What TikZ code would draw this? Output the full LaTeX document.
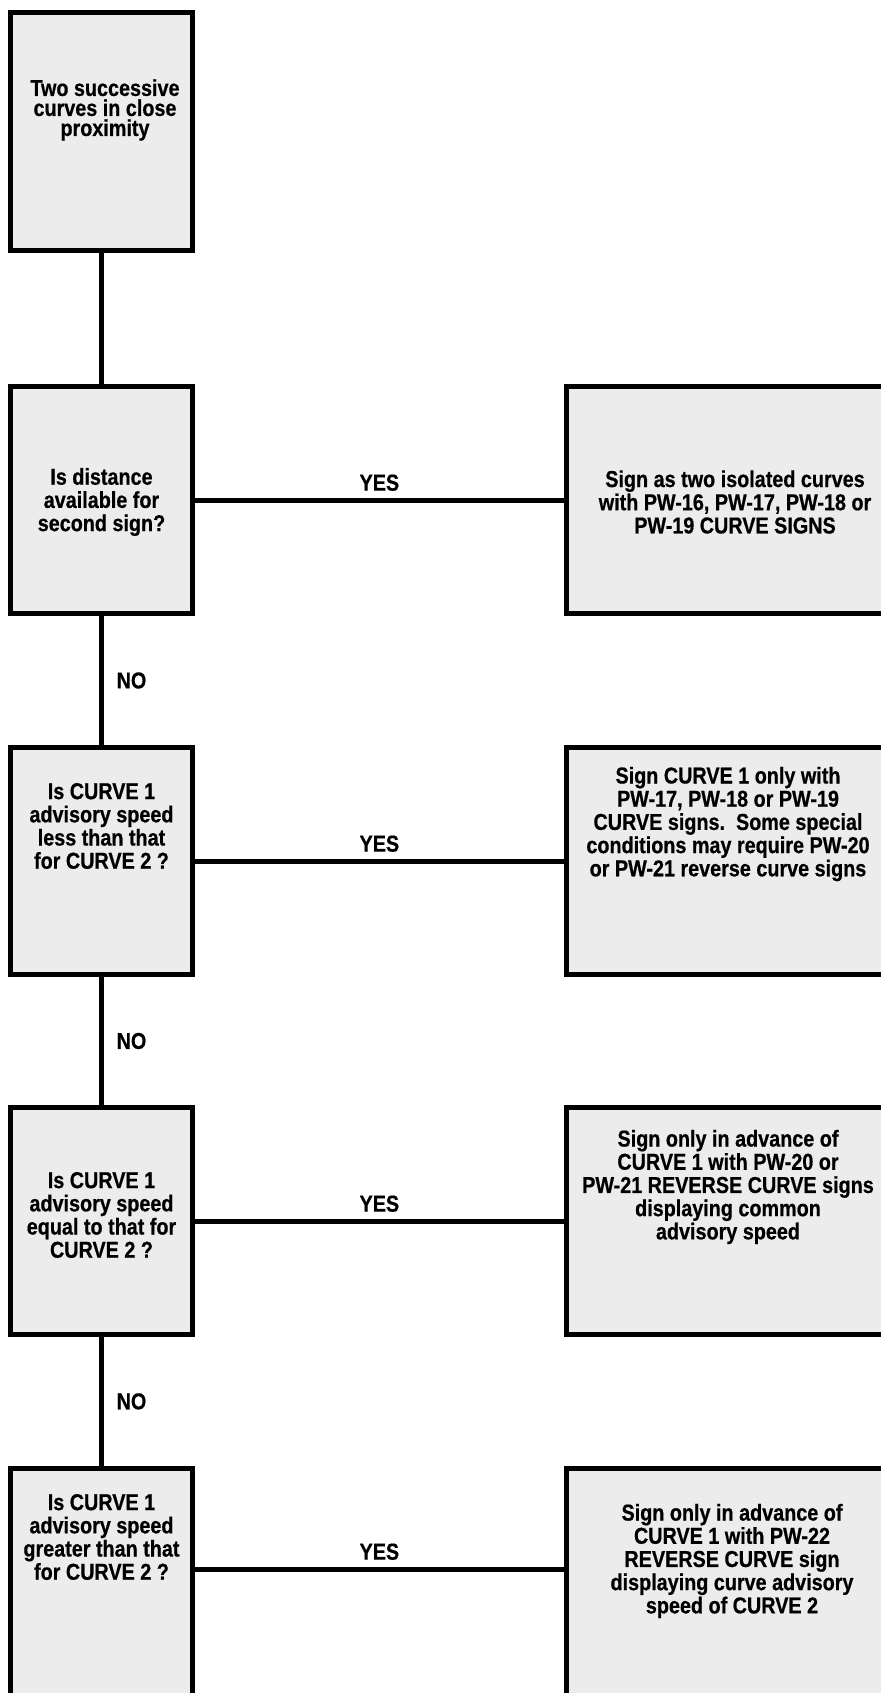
\documentclass[tikz,border=0pt]{standalone}
\usepackage{fontspec}
\setmainfont[FakeStretch=0.86,BoldFeatures={FakeBold=0.6}]{Liberation Sans}

\begin{document}
\begin{tikzpicture}[x=0.5pt,y=-0.5pt,
    box/.style={draw,line width=2.6pt,fill=gray!15,minimum width=91pt,minimum height=113.5pt,inner sep=0pt},
    ans/.style={box,minimum width=181.75pt},
    txt/.style={align=center,font=\bfseries\fontsize{11.5}{11.6}\selectfont},
    lbl/.style={font=\bfseries\fontsize{11.5}{11}\selectfont}]
    \clip (0,0) rectangle (881,1693);
    % question column
    \node[box,minimum height=119pt] (start) at (101.5,131.5) {};
    \node[box] (q1) at (101.5,500) {};
    \node[box] (q2) at (101.5,861) {};
    \node[box] (q3) at (101.5,1221) {};
    \node[box,minimum height=135.75pt] (q4) at (101.5,1604) {};
    % answer column
    \node[ans] (a1) at (748,500) {};
    \node[ans] (a2) at (748,861) {};
    \node[ans] (a3) at (748,1221) {};
    \node[ans,minimum height=135.75pt] (a4) at (748,1604) {};
    \coordinate (y4) at (0,1569);

    \draw[line width=2.5pt] (start.south) -- (q1.north);
    \foreach \a/\b in {q1/q2,q2/q3,q3/q4}
      \draw[line width=2.5pt] (\a.south) -- node[right,lbl,xshift=3pt] {NO} (\b.north);
    \foreach \i in {1,2,3}
      \draw[line width=2.5pt] (q\i.east) -- node[above,lbl] {YES} (a\i.west);
    \draw[line width=2.5pt] (q4.east |- y4) -- node[above,lbl] {YES} (a4.west |- y4);

    \node[txt,font=\bfseries\fontsize{11.5}{10}\selectfont] (t0) at (105,110) {Two successive\\curves in close\\proximity};
    \node[txt] (t1) at (101.5,502) {Is distance\\available for\\second sign?};
    \node[txt] (t2) at (101.5,826) {Is CURVE 1\\advisory speed\\less than that\\for CURVE 2 ?};
    \node[txt] (t3) at (101.5,1215) {Is CURVE 1\\advisory speed\\equal to that for\\CURVE 2 ?};
    \node[txt] (t4) at (101.5,1537) {Is CURVE 1\\advisory speed\\greater than that\\for CURVE 2 ?};
    \node[txt] (r1) at (735,502) {Sign as two isolated curves\\with PW-16, PW-17, PW-18 or\\PW-19 CURVE SIGNS};
    \node[txt] (r2) at (728,824) {Sign CURVE 1 only with\\PW-17, PW-18 or PW-19\\CURVE signs.\ \ Some special\\conditions may require PW-20\\or PW-21 reverse curve signs};
    \node[txt] (r3) at (728,1187) {Sign only in advance of\\CURVE 1 with PW-20 or\\PW-21 REVERSE CURVE signs\\displaying common\\advisory speed};
    \node[txt] (r4) at (732,1561) {Sign only in advance of\\CURVE 1 with PW-22\\REVERSE CURVE sign\\displaying curve advisory\\speed of CURVE 2};
\end{tikzpicture}
\end{document}
